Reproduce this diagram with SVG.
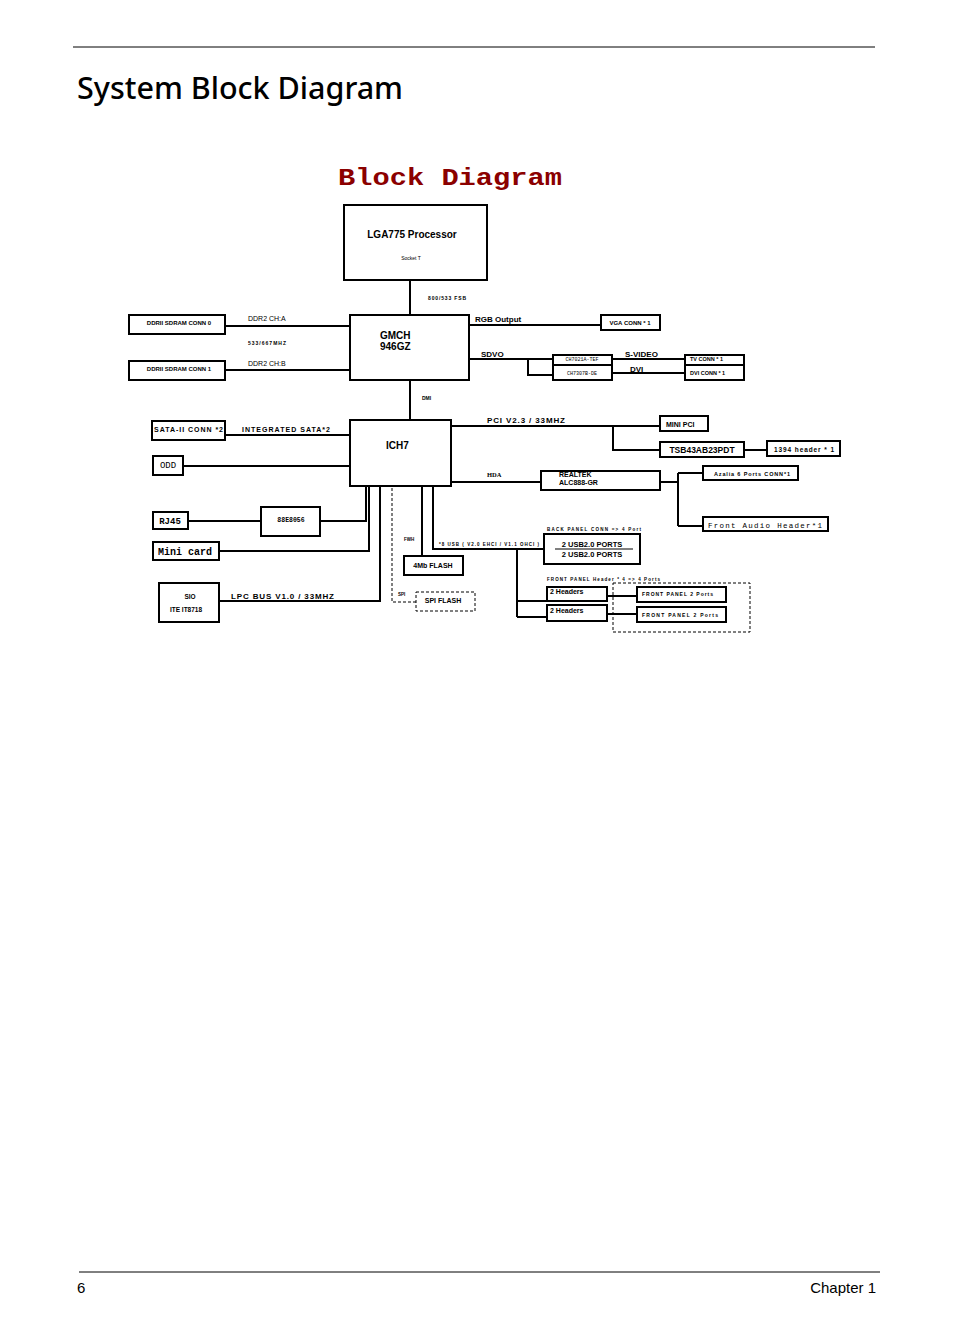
<svg xmlns="http://www.w3.org/2000/svg" width="954" height="1336" viewBox="0 0 954 1336">
<style>
.b{fill:#fff;stroke:#000;stroke-width:2}
.d{fill:none;stroke:#000;stroke-width:1;stroke-dasharray:3,2}
.l{fill:none;stroke:#000;stroke-width:2}
.t{stroke:#000;stroke-width:1}
text{font-family:"Liberation Sans",Arial,sans-serif;font-weight:bold;fill:#000}
.n{font-weight:normal}
.m{font-family:"Liberation Mono","Courier New",monospace}
</style>
<rect width="954" height="1336" fill="#fff"/>
<line x1="73" y1="47" x2="875" y2="47" class="t"/>
<text x="77" y="99" font-size="31" class="n" textLength="326" lengthAdjust="spacingAndGlyphs" style="font-family:'Noto Sans',sans-serif;font-weight:500">System Block Diagram</text>
<text x="338" y="185" font-size="24" class="m" textLength="224" lengthAdjust="spacingAndGlyphs" style="fill:#8b0000">Block Diagram</text>
<g id="connectors">
<path class="l" d="M410,280V315M225,326H350M225,370H350M469,325H601M469,359H528V375H553M528,359H553M612,359H685M612,373H685M410,380V420M225,435H350M183,466H350M451,426H660M613,426V450H660M744,450H767M451,482H541M660,482H678M678,473V526M678,473H703M678,526H703M366,486V521H320M188,521H261M369,486V551H219M380,486V601H219M422,486V556M433,486V549H544M517,549V617M517,601H547M517,617H547M607,596H637M607,614H637"/>
<path class="d" d="M392,488V602H416"/>
</g>
<g id="cpu"><rect class="b" x="344" y="205" width="143" height="75"/><text x="412" y="238" font-size="10" text-anchor="middle">LGA775 Processor</text><text x="411" y="260" font-size="5" class="n" text-anchor="middle">Socket T</text></g>
<text x="428" y="300" font-size="5" textLength="38">800/533 FSB</text>
<g id="gmch"><rect class="b" x="350" y="315" width="119" height="65"/><text x="380" y="339" font-size="10">GMCH</text><text x="380" y="350" font-size="10">946GZ</text></g>
<g id="ddr0"><rect class="b" x="129" y="315" width="96" height="19"/><text x="179" y="325" font-size="6" text-anchor="middle">DDRII SDRAM CONN 0</text></g>
<g id="ddr1"><rect class="b" x="129" y="361" width="96" height="19"/><text x="179" y="371" font-size="6" text-anchor="middle">DDRII SDRAM CONN 1</text></g>
<text x="248" y="321" font-size="7" class="n">DDR2 CH:A</text>
<text x="248" y="345" font-size="5" textLength="38">533/667MHZ</text>
<text x="248" y="366" font-size="7" class="n">DDR2 CH:B</text>
<text x="475" y="322" font-size="8">RGB Output</text>
<g id="vga"><rect class="b" x="601" y="315" width="59" height="15"/><text x="630" y="325" font-size="6" text-anchor="middle">VGA CONN * 1</text></g>
<text x="481" y="357" font-size="8">SDVO</text>
<g id="ch7021"><rect class="b" x="553" y="355" width="59" height="10"/><text x="582" y="361" font-size="5" class="m n" text-anchor="middle">CH7021A-TEF</text></g>
<g id="ch7307"><rect class="b" x="553" y="365" width="59" height="15"/><text x="582" y="375" font-size="5" class="m n" text-anchor="middle">CH7307B-DE</text></g>
<text x="625" y="357" font-size="8">S-VIDEO</text>
<text x="630" y="372" font-size="8">DVI</text>
<g id="tv"><rect class="b" x="685" y="355" width="59" height="10"/><text x="690" y="361" font-size="5.5">TV CONN * 1</text></g>
<g id="dvi"><rect class="b" x="685" y="365" width="59" height="15"/><text x="690" y="375" font-size="5.5">DVI CONN * 1</text></g>
<text x="422" y="400" font-size="5">DMI</text>
<g id="ich7"><rect class="b" x="350" y="420" width="101" height="66"/><text x="386" y="449" font-size="10">ICH7</text></g>
<g id="sata"><rect class="b" x="152" y="421" width="73" height="19"/><text x="154" y="432" font-size="7" textLength="69">SATA-II CONN  *2</text></g>
<text x="242" y="432" font-size="7" textLength="88">INTEGRATED SATA*2</text>
<g id="odd"><rect class="b" x="153" y="456" width="30" height="19"/><text x="168" y="468" font-size="9" class="m n" text-anchor="middle">ODD</text></g>
<text x="487" y="423" font-size="8" textLength="78">PCI V2.3 / 33MHZ</text>
<g id="minipci"><rect class="b" x="660" y="416" width="48" height="15"/><text x="666" y="427" font-size="7">MINI PCI</text></g>
<g id="tsb"><rect class="b" x="660" y="442" width="84" height="15"/><text x="702" y="453" font-size="8.5" text-anchor="middle">TSB43AB23PDT</text></g>
<g id="h1394"><rect class="b" x="767" y="441" width="73" height="15"/><text x="774" y="452" font-size="6.5" textLength="60">1394 header * 1</text></g>
<text x="487" y="477" font-size="6.5" style="font-family:'Liberation Serif',serif">HDA</text>
<g id="realtek"><rect class="b" x="541" y="471" width="119" height="19"/><text x="559" y="477" font-size="7">REALTEK</text><text x="559" y="485" font-size="7">ALC888-GR</text></g>
<g id="azalia"><rect class="b" x="703" y="466" width="95" height="14"/><text x="714" y="476" font-size="5.5" textLength="76">Azalia 6 Ports CONN*1</text></g>
<g id="fah"><rect class="b" x="703" y="517" width="125" height="14"/><text x="708" y="528" font-size="7.5" class="m n" textLength="114">Front Audio Header*1</text></g>
<g id="e8056"><rect class="b" x="261" y="507" width="59" height="29"/><text x="291" y="522" font-size="6.5" class="m" text-anchor="middle">88E8056</text></g>
<g id="rj45"><rect class="b" x="153" y="512" width="35" height="17"/><text x="170" y="524" font-size="9" class="m" text-anchor="middle">RJ45</text></g>
<g id="minicard"><rect class="b" x="153" y="542" width="66" height="18"/><text x="158" y="555" font-size="10" class="m">Mini card</text></g>
<g id="sio"><rect class="b" x="159" y="583" width="60" height="39"/><text x="190" y="599" font-size="6.5" text-anchor="middle">SIO</text><text x="186" y="612" font-size="6.5" text-anchor="middle">ITE IT8718</text></g>
<text x="231" y="599" font-size="8" textLength="103">LPC BUS V1.0 / 33MHZ</text>
<text x="404" y="541" font-size="4.5">FWH</text>
<g id="flash"><rect class="b" x="404" y="556" width="59" height="19"/><text x="433" y="568" font-size="7" text-anchor="middle">4Mb FLASH</text></g>
<text x="398" y="596" font-size="4.5">SPI</text>
<g id="spiflash"><rect class="d" x="416" y="592" width="59" height="19"/><text x="443" y="603" font-size="7" text-anchor="middle">SPI FLASH</text></g>
<text x="439" y="546" font-size="4.5" textLength="100">*8 USB ( V2.0 EHCI / V1.1 OHCI )</text>
<text x="547" y="531" font-size="4.5" textLength="94">BACK PANEL CONN =&gt; 4 Port</text>
<g id="backpanel"><rect class="b" x="544" y="534" width="96" height="30"/><line x1="555" y1="549" x2="633" y2="549" class="t"/><text x="592" y="547" font-size="7.5" text-anchor="middle">2 USB2.0 PORTS</text><text x="592" y="557" font-size="7.5" text-anchor="middle">2 USB2.0 PORTS</text></g>
<text x="547" y="581" font-size="4.5" textLength="113">FRONT PANEL Header * 4 =&gt; 4 Ports</text>
<rect class="d" x="613" y="583" width="137" height="49"/>
<g id="hdr1"><rect class="b" x="547" y="587" width="60" height="14"/><text x="550" y="594" font-size="7">2 Headers</text></g>
<g id="hdr2"><rect class="b" x="547" y="605" width="60" height="16"/><text x="550" y="613" font-size="7">2 Headers</text></g>
<g id="fp1"><rect class="b" x="637" y="587" width="89" height="15"/><text x="642" y="596" font-size="5" textLength="71">FRONT PANEL 2 Ports</text></g>
<g id="fp2"><rect class="b" x="637" y="607" width="89" height="15"/><text x="642" y="617" font-size="5" textLength="76">FRONT PANEL 2 Ports</text></g>
<line x1="79" y1="1272" x2="880" y2="1272" class="t"/>
<text x="77" y="1293" font-size="15" class="n">6</text>
<text x="876" y="1293" font-size="15" class="n" text-anchor="end">Chapter 1</text>
</svg>
